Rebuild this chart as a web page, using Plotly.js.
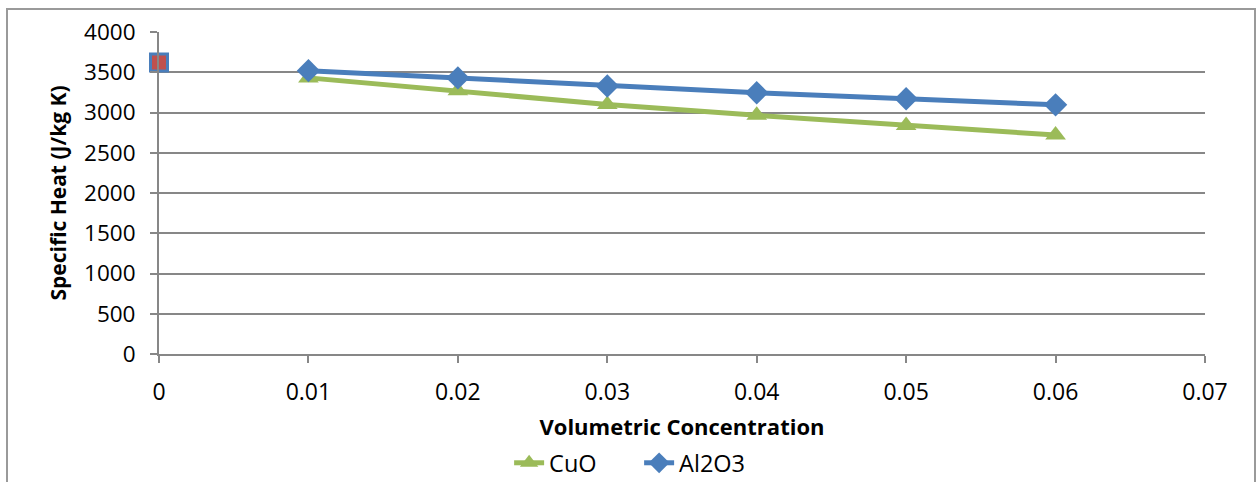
<!DOCTYPE html>
<html>
<head>
<meta charset="utf-8">
<script src="https://cdn.plot.ly/plotly-3.0.1.min.js"></script>
<style>
  html, body { margin: 0; padding: 0; background: #fff; overflow: hidden; }
  #chart { width: 1257px; height: 482px; }
</style>
</head>
<body>
<div id="chart"></div>
<script>
// Data
const concentration = [0.01, 0.02, 0.03, 0.04, 0.05, 0.06];
const cuoHeat = [3430, 3270, 3100, 2965, 2840, 2720];
const al2o3Heat = [3520, 3430, 3330, 3245, 3170, 3095];
const baseX = [0];
const baseHeat = [3620];
const xTicks = [0, 0.01, 0.02, 0.03, 0.04, 0.05, 0.06, 0.07];
const xTickLabels = ['0', '0.01', '0.02', '0.03', '0.04', '0.05', '0.06', '0.07'];
const yTicks = [0, 500, 1000, 1500, 2000, 2500, 3000, 3500, 4000];

const FONT = 'Open Sans, Noto Sans, sans-serif';
const GRID = '#878787';

const traces = [
  {
    x: concentration, y: cuoHeat, name: 'CuO', type: 'scatter', mode: 'lines+markers',
    line: { color: '#9BBB59', width: 5 },
    marker: { symbol: 'triangle-up', size: 18, color: '#9BBB59' },
    cliponaxis: false
  },
  {
    x: concentration, y: al2o3Heat, name: 'Al2O3', type: 'scatter', mode: 'lines+markers',
    line: { color: '#4A7EBB', width: 5 },
    marker: { symbol: 'diamond', size: 18, color: '#4A7EBB' },
    cliponaxis: false
  },
  {
    x: baseX, y: baseHeat, name: 'Base fluid', type: 'scatter', mode: 'markers',
    showlegend: false,
    marker: { symbol: 'square', size: 17, color: '#C0504D', line: { color: '#4A7EBB', width: 3 } },
    cliponaxis: false
  }
];

const layout = {
  width: 1257, height: 482,
  margin: { l: 159, r: 52, t: 32, b: 128 },
  paper_bgcolor: '#ffffff',
  plot_bgcolor: '#ffffff',
  font: { family: FONT, size: 22, color: '#000' },
  showlegend: true,
  xaxis: {
    range: [0, 0.07], tickvals: xTicks, ticktext: xTickLabels,
    showgrid: false, zeroline: false,
    showline: true, linecolor: GRID, linewidth: 2,
    ticks: 'outside', ticklen: 7, tickwidth: 2, tickcolor: GRID,
    ticklabelstandoff: 9,
    tickfont: { family: FONT, size: 23, color: '#000' },
    title: { text: '<b>Volumetric Concentration</b>', font: { family: FONT, size: 22, color: '#000' }, standoff: 14 },
    automargin: false
  },
  yaxis: {
    range: [0, 4000], tickvals: yTicks,
    showgrid: true, gridcolor: GRID, gridwidth: 2, zeroline: false,
    showline: true, linecolor: GRID, linewidth: 2,
    ticks: 'outside', ticklen: 7, tickwidth: 2, tickcolor: GRID,
    ticklabelstandoff: 10,
    tickfont: { family: FONT, size: 22.5, color: '#000' },
    title: { text: '<b>Specific Heat (J/kg K)</b>', font: { family: FONT, size: 21, color: '#000' }, standoff: 12 },
    automargin: false
  },
  legend: {
    orientation: 'h', x: 0.459, xanchor: 'center',
    yref: 'container', y: 1 - 463 / 482, yanchor: 'middle',
    font: { family: FONT, size: 23.5, color: '#000' },
    entrywidth: 85, entrywidthmode: 'pixels',
    bgcolor: 'rgba(0,0,0,0)', tracegroupgap: 0
  },
  shapes: [
    {
      type: 'rect', xref: 'paper', yref: 'paper',
      x0: -152 / 1046, x1: 1096 / 1046, y0: -0.5, y1: 345 / 322,
      line: { color: '#9a9a9a', width: 2 }, fillcolor: 'rgba(0,0,0,0)', layer: 'below'
    }
  ]
};

Plotly.newPlot('chart', traces, layout, { displayModeBar: false, staticPlot: true });
</script>
</body>
</html>
